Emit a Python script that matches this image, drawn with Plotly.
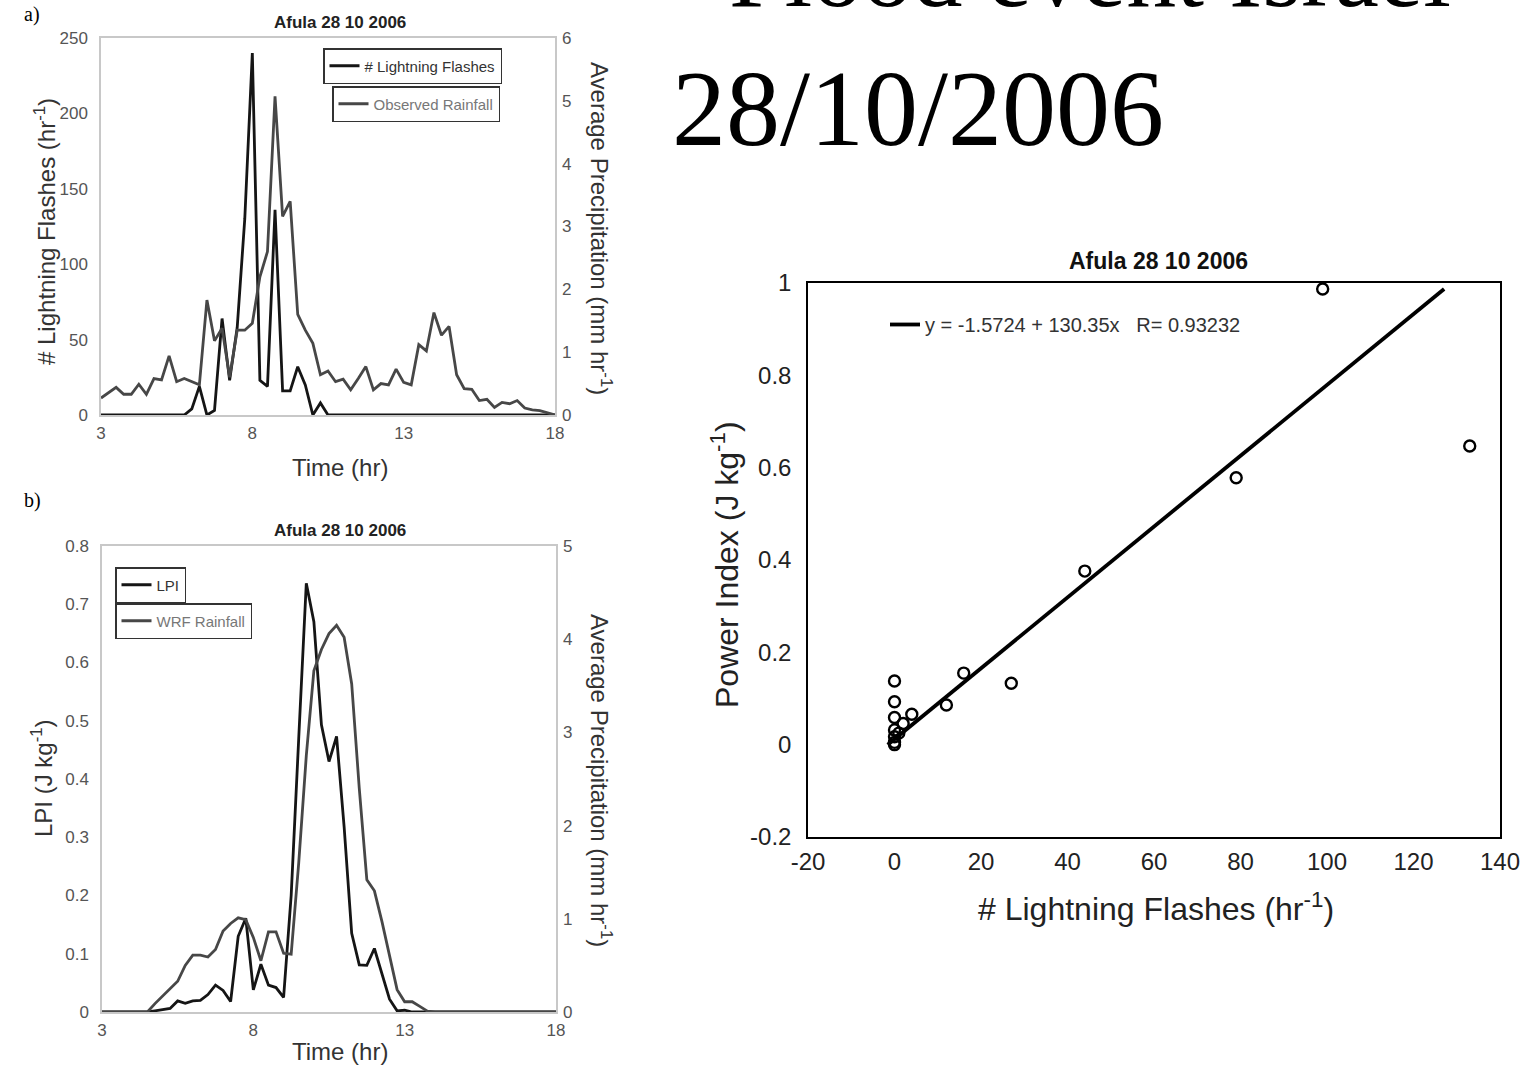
import plotly.graph_objects as go

W, H = 1533, 1068

# ---------------- data ----------------
TIME_HR = [3.0, 3.25, 3.5, 3.75, 4.0, 4.25, 4.5, 4.75, 5.0, 5.25, 5.5, 5.75, 6.0, 6.25, 6.5, 6.75,
           7.0, 7.25, 7.5, 7.75, 8.0, 8.25, 8.5, 8.75, 9.0, 9.25, 9.5, 9.75, 10.0, 10.25, 10.5, 10.75,
           11.0, 11.25, 11.5, 11.75, 12.0, 12.25, 12.5, 12.75, 13.0, 13.25, 13.5, 13.75, 14.0, 14.25,
           14.5, 14.75, 15.0, 15.25, 15.5, 15.75, 16.0, 16.25, 16.5, 16.75, 17.0, 17.25, 17.5, 17.75, 18.0]

LIGHTNING_FLASHES = [0, 0, 0, 0, 0, 0, 0, 0, 0, 0, 0, 0, 4, 19, 0, 3,
                     64, 23, 58, 130, 240, 23, 19, 136, 16, 16, 32, 20, 0, 8, 0, 0,
                     0, 0, 0, 0, 0, 0, 0, 0, 0, 0, 0, 0, 0, 0,
                     0, 0, 0, 0, 0, 0, 0, 0, 0, 0, 0, 0, 0, 0, 0]

OBSERVED_RAIN = [0.27, 0.36, 0.44, 0.33, 0.33, 0.49, 0.33, 0.58, 0.56, 0.94, 0.53, 0.58, 0.53, 0.48, 1.83, 1.18,
                 1.38, 0.60, 1.35, 1.35, 1.46, 2.20, 2.60, 5.07, 3.16, 3.40, 1.60, 1.35, 1.14, 0.64, 0.70, 0.53,
                 0.57, 0.40, 0.58, 0.77, 0.40, 0.50, 0.48, 0.73, 0.52, 0.48, 1.12, 1.02, 1.63, 1.27,
                 1.41, 0.64, 0.42, 0.41, 0.23, 0.25, 0.12, 0.20, 0.18, 0.23, 0.11, 0.08, 0.07, 0.03, 0.00]

LPI = [0, 0, 0, 0, 0, 0, 0, 0.002, 0.004, 0.006, 0.019, 0.015, 0.019, 0.020, 0.030, 0.046,
       0.037, 0.018, 0.13, 0.161, 0.038, 0.082, 0.046, 0.042, 0.025, 0.20, 0.47, 0.736, 0.670, 0.493, 0.430, 0.473,
       0.318, 0.135, 0.081, 0.080, 0.109, 0.064, 0.022, 0.002, 0.003, 0, 0, 0, 0, 0,
       0, 0, 0, 0, 0, 0, 0, 0, 0, 0, 0, 0, 0, 0, 0]

WRF_RAIN = [0, 0, 0, 0, 0, 0, 0, 0.09, 0.17, 0.24, 0.33, 0.50, 0.61, 0.61, 0.59, 0.67,
            0.87, 0.95, 1.01, 0.99, 0.80, 0.55, 0.86, 0.86, 0.63, 0.62, 1.60, 2.75, 3.66, 3.89, 4.06, 4.15,
            4.02, 3.52, 2.40, 1.42, 1.30, 0.97, 0.62, 0.24, 0.11, 0.11, 0.06, 0.01, 0, 0,
            0, 0, 0, 0, 0, 0, 0, 0, 0, 0, 0, 0, 0, 0, 0]

SCATTER_FLASHES = [0, 0, 0, 0, 0, 0, 0, 1, 2, 4, 12, 16, 27, 44, 79, 99, 133]
SCATTER_POWER = [0.0, 0.005, 0.017, 0.032, 0.059, 0.093, 0.138, 0.025, 0.046, 0.066,
                 0.086, 0.155, 0.133, 0.376, 0.578, 0.987, 0.647]

FIT_INTERCEPT = -1.5724
FIT_SLOPE = 130.35
FIT_R = 0.93232

TIME_TICKS = [3, 8, 13, 18]
SC_X_TICKS = [-20, 0, 20, 40, 60, 80, 100, 120, 140]
SC_X_TICKTEXT = ["-20", "0", "20", "40", "60", "80", "100", "120", "140"]
SC_Y_TICKS = [-0.2, 0, 0.2, 0.4, 0.6, 0.8, 1]
SC_Y_TICKTEXT = ["-0.2", "0", "0.2", "0.4", "0.6", "0.8", "1"]

TITLE_PANEL = "Afula 28 10 2006"

# -------------- helpers ---------------
def px(x):
    return x / W


def py(y):
    return 1 - y / H


SANS = "Liberation Sans, Arial, sans-serif"
SERIF = "Liberation Serif, Times New Roman, serif"
TICK_GREY = "#555555"
FRAME_GREY = "#c8c8c8"

fit_y = [min(SCATTER_POWER), max(SCATTER_POWER)]
fit_x = [FIT_INTERCEPT + FIT_SLOPE * v for v in fit_y]

fig = go.Figure()

# panel a
fig.add_trace(go.Scatter(x=TIME_HR, y=LIGHTNING_FLASHES, mode="lines", name="# Lightning Flashes",
                         line=dict(color="#151515", width=2.8), xaxis="x", yaxis="y", legend="legend"))
fig.add_trace(go.Scatter(x=TIME_HR, y=OBSERVED_RAIN, mode="lines", name="Observed Rainfall",
                         line=dict(color="#474747", width=2.8), xaxis="x", yaxis="y2", legend="legend2"))
# panel b
fig.add_trace(go.Scatter(x=TIME_HR, y=LPI, mode="lines", name="LPI",
                         line=dict(color="#151515", width=2.8), xaxis="x2", yaxis="y3", legend="legend3"))
fig.add_trace(go.Scatter(x=TIME_HR, y=WRF_RAIN, mode="lines", name="WRF Rainfall",
                         line=dict(color="#474747", width=2.8), xaxis="x2", yaxis="y4", legend="legend4"))
# panel c
fig.add_trace(go.Scatter(x=SCATTER_FLASHES, y=SCATTER_POWER, mode="markers", showlegend=False,
                         marker=dict(symbol="circle-open", size=11, color="black", line=dict(width=2.4)),
                         xaxis="x3", yaxis="y5"))
fig.add_trace(go.Scatter(x=fit_x, y=fit_y, mode="lines",
                         name="y = %s + %sx\u00a0\u00a0\u00a0R= %s" % (FIT_INTERCEPT, FIT_SLOPE, FIT_R),
                         line=dict(color="black", width=3.8), xaxis="x3", yaxis="y5", legend="legend5"))

ax_common = dict(showgrid=False, zeroline=False, ticks="")

fig.update_layout(
    width=W, height=H, margin=dict(l=0, r=0, t=0, b=0),
    paper_bgcolor="white", plot_bgcolor="white", template="none",
    font=dict(family=SANS, color=TICK_GREY),
    # panel a
    xaxis=dict(domain=[px(101), px(555)], range=[3, 18], tickvals=TIME_TICKS, anchor="y",
               showline=True, mirror=True, linecolor=FRAME_GREY, linewidth=1.5, ticklabelstandoff=2,
               tickfont=dict(size=17, color=TICK_GREY), **ax_common),
    yaxis=dict(domain=[py(415), py(38)], range=[0, 250], dtick=50, anchor="x",
               showline=True, mirror=True, linecolor=FRAME_GREY, linewidth=1.5, ticklabelstandoff=8,
               tickfont=dict(size=17, color=TICK_GREY), **ax_common),
    yaxis2=dict(overlaying="y", side="right", range=[0, 6], dtick=1, anchor="x", showline=False,
                ticklabelstandoff=6, tickfont=dict(size=17, color=TICK_GREY), **ax_common),
    # panel b
    xaxis2=dict(domain=[px(102), px(556)], range=[3, 18], tickvals=TIME_TICKS, anchor="y3",
                showline=True, mirror=True, linecolor=FRAME_GREY, linewidth=1.5, ticklabelstandoff=2,
                tickfont=dict(size=17, color=TICK_GREY), **ax_common),
    yaxis3=dict(domain=[py(1012), py(546)], range=[0, 0.8], dtick=0.1, anchor="x2",
                showline=True, mirror=True, linecolor=FRAME_GREY, linewidth=1.5, ticklabelstandoff=8,
                tickfont=dict(size=17, color=TICK_GREY), **ax_common),
    yaxis4=dict(overlaying="y3", side="right", range=[0, 5], dtick=1, anchor="x2", showline=False,
                ticklabelstandoff=6, tickfont=dict(size=17, color=TICK_GREY), **ax_common),
    # panel c
    xaxis3=dict(domain=[px(808), px(1500)], range=[-20, 140], tickvals=SC_X_TICKS, ticktext=SC_X_TICKTEXT,
                anchor="y5", showline=True, mirror=True, linecolor="black", linewidth=1.5, ticklabelstandoff=2,
                tickfont=dict(size=24, color="#222222"), **ax_common),
    yaxis5=dict(domain=[py(837), py(283)], range=[-0.2, 1], tickvals=SC_Y_TICKS, ticktext=SC_Y_TICKTEXT,
                anchor="x3", showline=True, mirror=True, linecolor="black", linewidth=1.5, ticklabelstandoff=10,
                tickfont=dict(size=24, color="#222222"), **ax_common),
    legend=dict(x=px(323), y=py(48), xanchor="left", yanchor="top", bgcolor="white",
                bordercolor="#333333", borderwidth=1.5, font=dict(size=15, color="#333333")),
    legend2=dict(x=px(332), y=py(86), xanchor="left", yanchor="top", bgcolor="white",
                 bordercolor="#333333", borderwidth=1.5, font=dict(size=15, color="#777777")),
    legend3=dict(x=px(115), y=py(567), xanchor="left", yanchor="top", bgcolor="white",
                 bordercolor="#333333", borderwidth=1.5, font=dict(size=15, color="#333333")),
    legend4=dict(x=px(115), y=py(603), xanchor="left", yanchor="top", bgcolor="white",
                 bordercolor="#333333", borderwidth=1.5, font=dict(size=15, color="#777777")),
    legend5=dict(x=px(885), y=py(305), xanchor="left", yanchor="top", bgcolor="rgba(0,0,0,0)",
                 borderwidth=0, font=dict(size=20, color="#333333")),
)

ann = []


def add_text(text, x, y, size, color="#333333", angle=0, family=SANS, xanchor="center", yanchor="middle"):
    ann.append(dict(text=text, x=px(x), y=py(y), xref="paper", yref="paper", showarrow=False,
                    textangle=angle, font=dict(size=size, color=color, family=family),
                    xanchor=xanchor, yanchor=yanchor))


# panel titles
add_text("<b>%s</b>" % TITLE_PANEL, 340, 22, 17, "#222222")
add_text("<b>%s</b>" % TITLE_PANEL, 340, 530, 17, "#222222")
add_text("<b>%s</b>" % TITLE_PANEL, 1158, 261, 23, "#111111")
# panel a axis titles
add_text("# Lightning Flashes (hr<sup>-1</sup>)", 45, 232, 24, "#333333", -90)
add_text("Average Precipitation (mm hr<sup>-1</sup>)", 601, 228, 24, "#333333", 90)
add_text("Time (hr)", 340, 467, 24, "#333333")
# panel b axis titles
add_text("LPI (J kg<sup>-1</sup>)", 42, 778, 24, "#333333", -90)
add_text("Average Precipitation (mm hr<sup>-1</sup>)", 601, 780, 24, "#333333", 90)
add_text("Time (hr)", 340, 1051, 24, "#333333")
# panel c axis titles
add_text("Power Index (J kg<sup>-1</sup>)", 725, 565, 32, "#222222", -90)
add_text("# Lightning Flashes (hr<sup>-1</sup>)", 1156, 907, 32, "#222222")
# panel letters
add_text("a)", 32, 14, 20, "black", family=SERIF)
add_text("b)", 32, 500, 20, "black", family=SERIF)
# slide heading
add_text("Flood event Israel", 1090, 30, 100, "black", family=SERIF, yanchor="bottom")
add_text("28/10/2006", 918, 170, 108, "black", family=SERIF, yanchor="bottom")

fig.update_layout(annotations=ann)

fig.write_html("out.html", config={"displayModeBar": False},
               post_script="document.body.style.margin='0';document.body.style.overflow='hidden';")
